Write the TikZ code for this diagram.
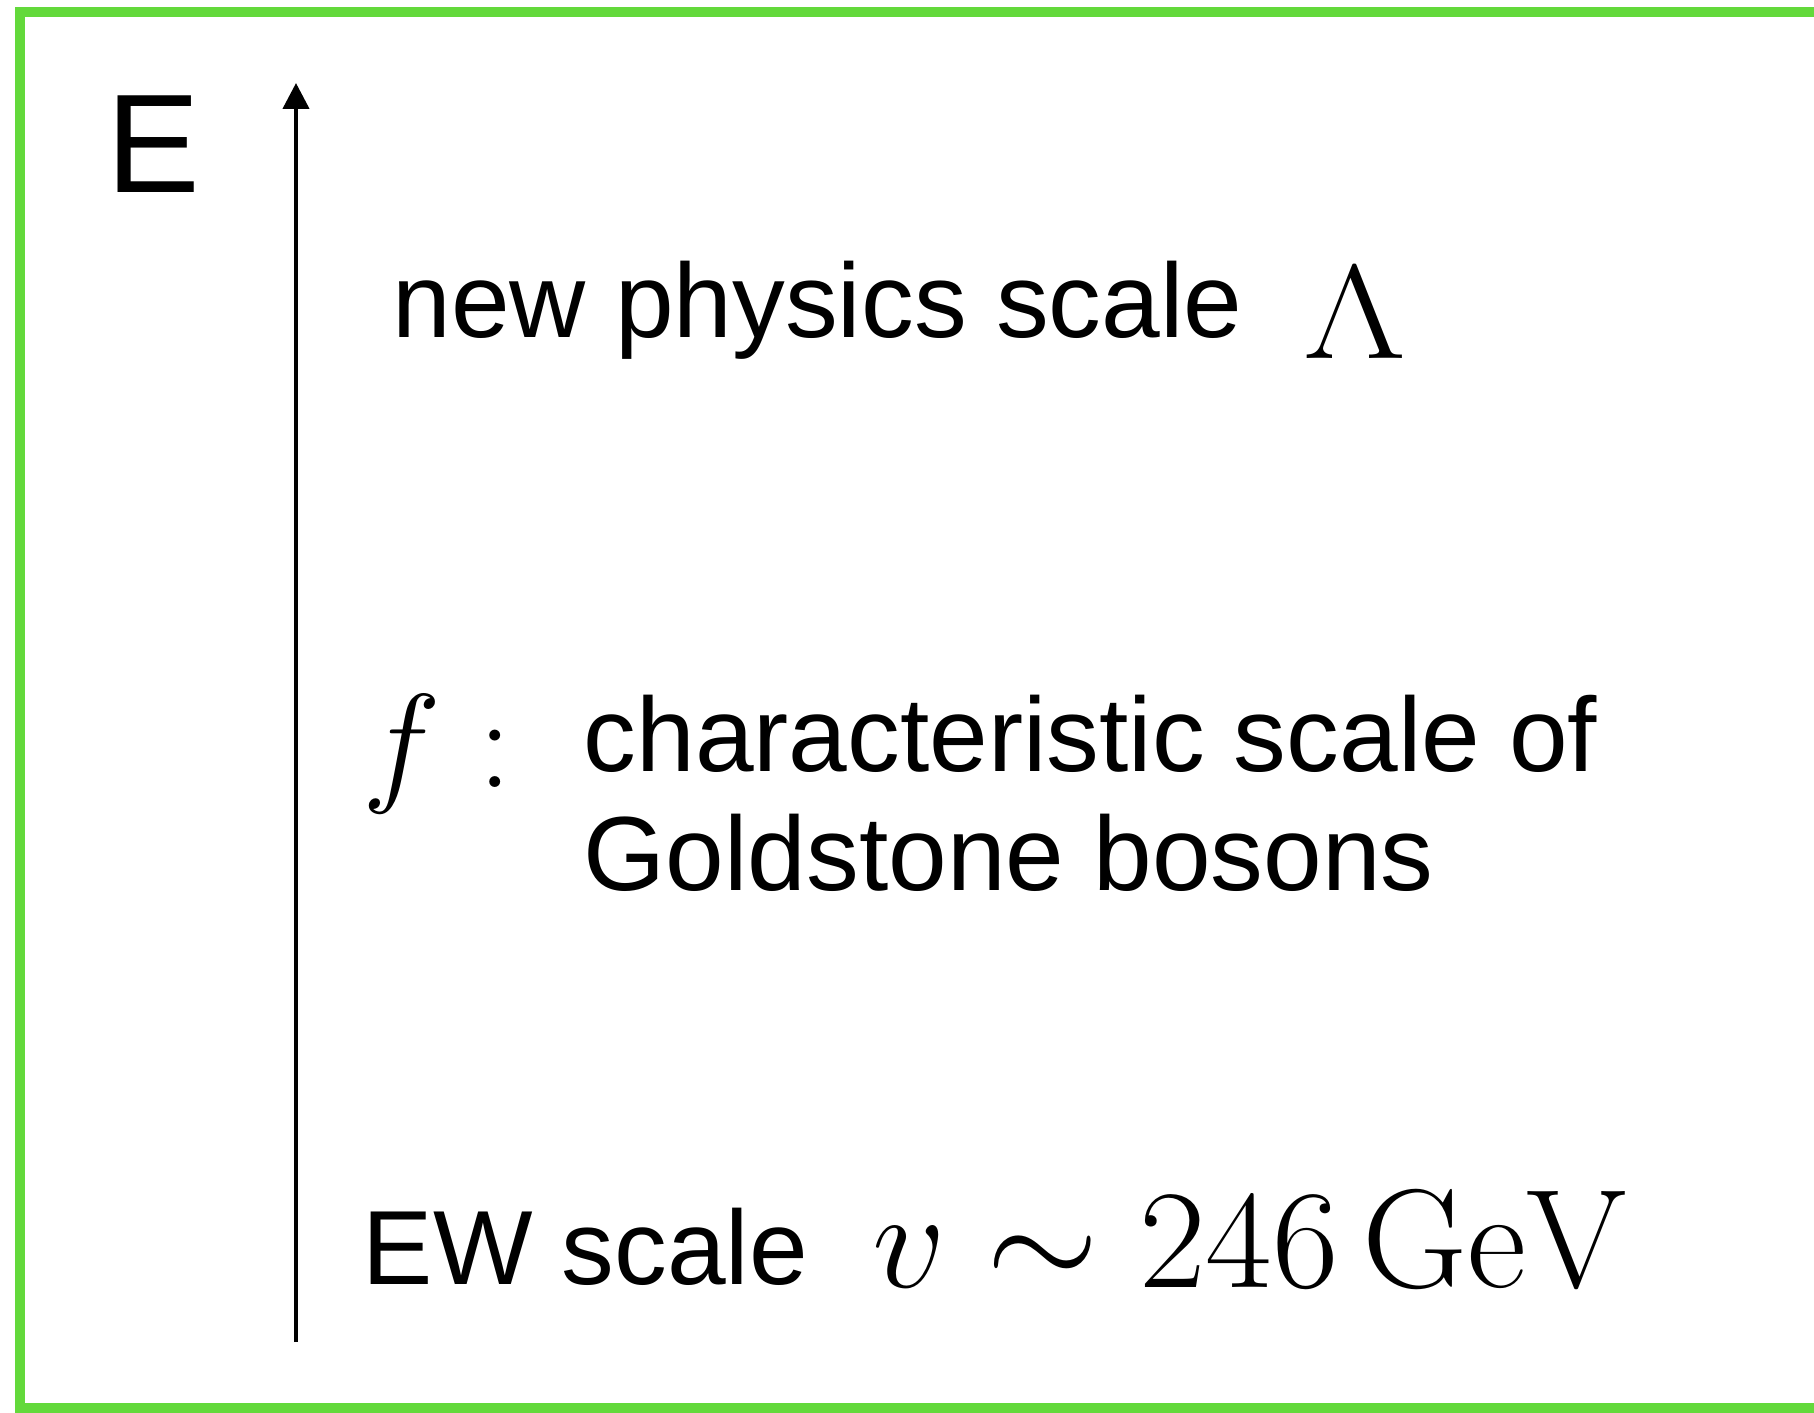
\documentclass[tikz,border=0pt]{standalone}
\usepackage{fix-cm}
\usepackage[no-math]{fontspec}
\setmainfont{Liberation Sans}
\usetikzlibrary{arrows.meta}
\definecolor{framegreen}{HTML}{63D93B}

\begin{document}
\begin{tikzpicture}[
    txt/.style={anchor=base west, inner sep=0pt, font=\fontsize{30}{36}\selectfont},
    mathtxt/.style={anchor=base west, inner sep=0pt, font=\fontsize{38}{44}\selectfont},
    axis/.style={-{Triangle[length=2.6mm,width=2.6mm]}, line width=1.2pt}
]
\useasboundingbox (0,0) rectangle (18.14,14.12);

% Frame (open on the right)
\draw[framegreen, line width=0.1cm] (18.14,14.00) -- (0.195,14.00) -- (0.195,0.04) -- (18.14,0.04);

% Energy axis
\coordinate (axlow) at (2.96,0.70);
\coordinate (axhigh) at (2.96,13.29);
\draw[axis] (axlow) -- (axhigh);
\node[anchor=base west, inner sep=0pt, font=\fontsize{40}{48}\selectfont] (elabel) at (1.06,12.19) {E};

% New physics scale
\node[txt] (newphys) at (3.92,10.74) {new physics scale};
\node[mathtxt] (lambda) at (13.03,10.53) {\scalebox{1.2}[1]{$\Lambda$}};

% Goldstone scale
\node[mathtxt] (fsym) at (3.62,6.24) {$f\;{:}$};
\node[txt, align=left] (goldstone) at (5.83,5.21) {characteristic scale of\\[-0.07cm]Goldstone bosons};

% EW scale
\node[txt] (ewscale) at (3.62,1.28) {EW scale};
\node[mathtxt, font=\fontsize{40}{46}\selectfont] (vev) at (8.72,1.25) {\scalebox{1.03}[1]{$v\sim246\,\mathrm{GeV}$}};

\end{tikzpicture}
\end{document}
